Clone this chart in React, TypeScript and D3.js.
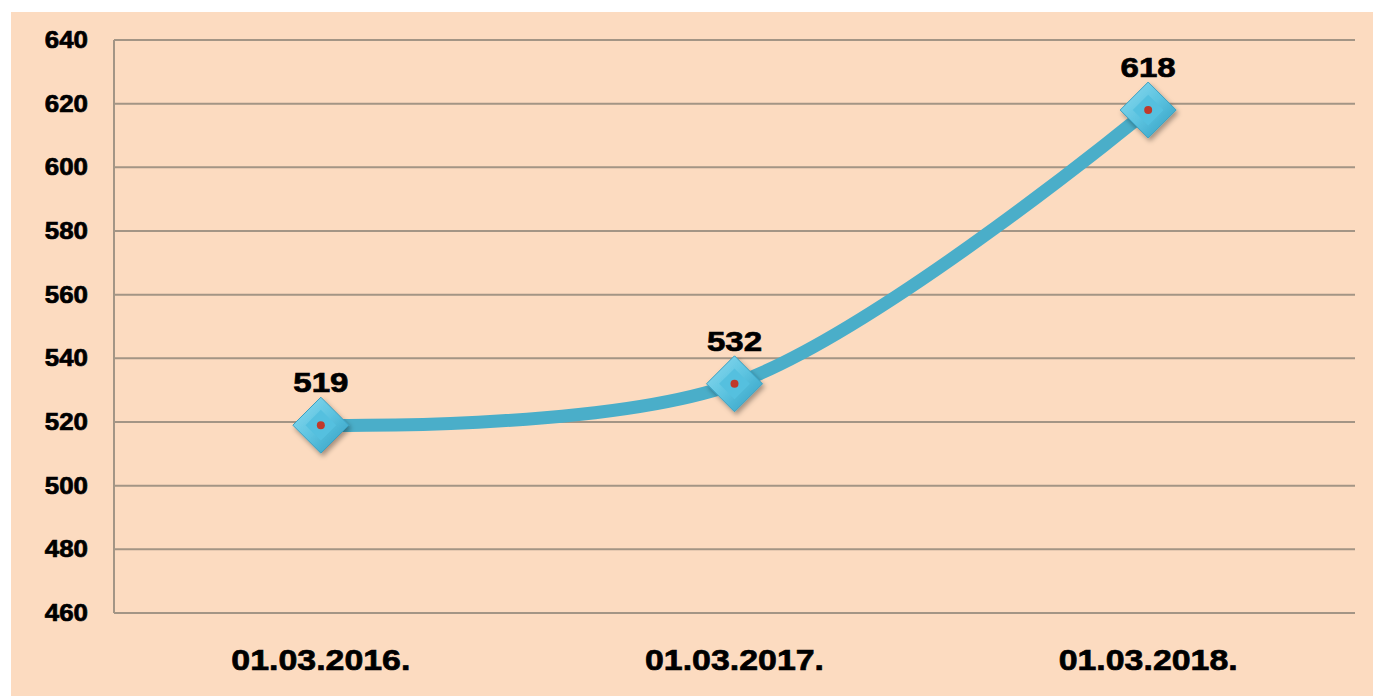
import React from "react";
import * as d3 from "d3";

const categories = ["01.03.2016.", "01.03.2017.", "01.03.2018."];
const values = [519, 532, 618];
const yTicks = [460, 480, 500, 520, 540, 560, 580, 600, 620, 640];

const W = 1373;
const H = 696;
const M = { left: 114, right: 1355, top: 40, bottom: 613 };

function SText(props: { x: number; y: number; sx: number; size: number; anchor: string; children: React.ReactNode }) {
  const { x, y, sx, size, anchor, children } = props;
  return (
    <text
      transform={`translate(${x},${y}) scale(${sx},1)`}
      textAnchor={anchor}
      fontFamily="'Liberation Sans', Arial, sans-serif"
      fontWeight="bold"
      fontSize={size}
      fill="#000"
      stroke="#000"
      strokeWidth={0.7}
    >
      {children}
    </text>
  );
}

export default function App() {
  const x = d3.scalePoint<string>().domain(categories).range([M.left, M.right]).padding(0.5);
  const y = d3.scaleLinear().domain([460, 640]).range([M.bottom, M.top]);
  const pts = categories.map((c, i) => [x(c) as number, y(values[i])] as [number, number]);
  const line = d3.line().curve(d3.curveCatmullRom.alpha(0.5))(pts) || "";
  const r = 28;
  return (
    <svg width={W} height={H} style={{ position: "absolute", left: 0, top: 0 }}>
      <defs>
        <linearGradient id="dg" x1="0" y1="0" x2="1" y2="1">
          <stop offset="0" stopColor="#8fdcf0" />
          <stop offset="0.5" stopColor="#5cc3e0" />
          <stop offset="1" stopColor="#2f9cc0" />
        </linearGradient>
        <filter id="sh" x="-50%" y="-50%" width="200%" height="200%">
          <feDropShadow dx="2" dy="3" stdDeviation="2.5" floodColor="#000" floodOpacity="0.35" />
        </filter>
      </defs>
      <rect x={11} y={12} width={W - 11} height={H - 12} fill="#fcdbc0" />
      {yTicks.map((t) => (
        <g key={t}>
          <line x1={M.left} x2={M.right} y1={y(t)} y2={y(t)} stroke="#a39585" strokeWidth={2} />
          <SText x={88} y={y(t) + 8} sx={1.08} size={24} anchor="end">
            {t}
          </SText>
        </g>
      ))}
      <line x1={M.left} x2={M.left} y1={M.top} y2={M.bottom} stroke="#a39585" strokeWidth={2} />
      {categories.map((c) => (
        <SText key={c} x={x(c) as number} y={670} sx={1.13} size={30} anchor="middle">
          {c}
        </SText>
      ))}
      <path d={line} fill="none" stroke="#4aaec9" strokeWidth={13} strokeLinecap="round" />
      {pts.map(([px, py], i) => (
        <g key={i}>
          <path
            d={`M${px},${py - r}L${px + r},${py}L${px},${py + r}L${px - r},${py}Z`}
            fill="url(#dg)"
            stroke="#3a9fc0"
            strokeWidth={1}
            filter="url(#sh)"
          />
          <path
            d={`M${px},${py - r * 0.55}L${px + r * 0.55},${py}L${px},${py + r * 0.55}L${px - r * 0.55},${py}Z`}
            fill="#55c0df"
          />
          <circle cx={px} cy={py} r={4} fill="#c0392b" />
          <SText x={px} y={py - 33} sx={1.18} size={28} anchor="middle">
            {values[i]}
          </SText>
        </g>
      ))}
    </svg>
  );
}
